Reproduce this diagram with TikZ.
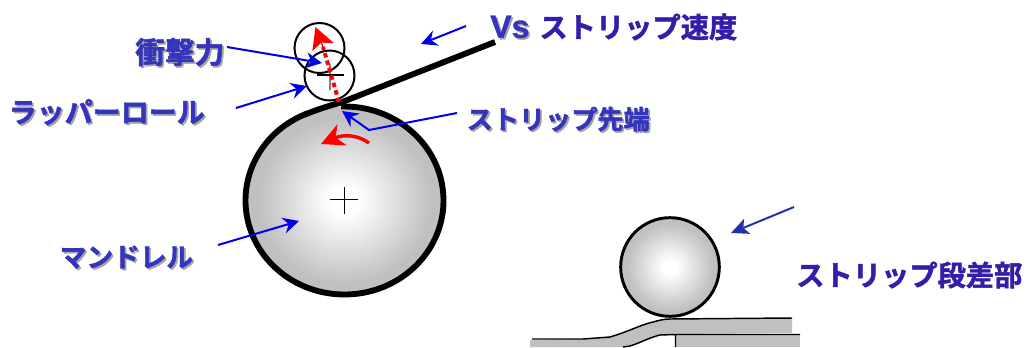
\documentclass[tikz,border=0pt]{standalone}
\usepackage{fontspec}
\setmainfont{Noto Sans CJK JP}[BoldFont={Noto Sans CJK JP Bold},BoldFeatures={FakeBold=1.6}]
\newfontfamily\latinbold{Liberation Sans}[BoldFont={Liberation Sans Bold},BoldFeatures={FakeBold=1.2}]
\usetikzlibrary{arrows.meta,shapes.geometric}
\definecolor{labelblue}{RGB}{52,52,190}
\definecolor{labelpurple}{RGB}{50,30,170}
\definecolor{shadowgray}{RGB}{165,165,165}
\definecolor{arrowblue}{RGB}{0,0,235}
\definecolor{darkblue}{RGB}{35,50,170}
\definecolor{slabgray}{RGB}{192,192,192}
\definecolor{hitred}{RGB}{255,0,0}
\newcommand{\shtext}[1]{\rlap{\hspace{1.3pt}\raisebox{-1.3pt}{\textcolor{shadowgray}{#1}}}\textcolor{labelblue}{#1}}
\pgfdeclareradialshading{ballshade}{\pgfpoint{0bp}{0bp}}{color(0bp)=(white);color(3.5bp)=(white);color(22bp)=(slabgray);color(50bp)=(slabgray)}
\tikzset{
  lbl/.style={inner sep=0pt,anchor=west,font=\bfseries\fontsize{#1pt}{#1pt}\selectfont},
  bluearrow/.style={arrowblue,line width=1.5pt,-{Stealth[length=12pt,width=12pt,inset=4pt]}},
  darkarrow/.style={darkblue,line width=1.5pt,-{Stealth[length=13pt,width=12pt,inset=3pt]}},
  thinroll/.style={circle,draw=black,line width=1.5pt,inner sep=0pt,minimum size=37.5pt},
}
\begin{document}
\begin{tikzpicture}[x=0.75pt,y=-0.75pt]
\useasboundingbox (0,0) rectangle (1029,347);
% mandrel
\node[ellipse,inner sep=0pt,shading=ballshade,minimum width=148.5pt,minimum height=141pt] (mandrel) at (344.5,200.5) {};
\draw[line width=4.4pt] (341.05,106.56) arc[start angle=268,end angle=608,x radius=99,y radius=94];
% strip
\coordinate (stripend) at (495,42);
\coordinate (striptip) at (341,102.5);
\coordinate (stripjoin) at (305,114.5);
\draw[line width=4.4pt] (stripend) -- (striptip) .. controls (328,106) and (316,110) .. (stripjoin);
% crosses
\draw[line width=0.6pt] (330,199.5) -- (358,199.5) (344,187) -- (344,214);
\node[thinroll] (rolla) at (319.5,48) {};
\node[thinroll] (rollb) at (329.5,75.5) {};
\draw[gray,line width=0.9pt] (330,64) -- (330,90);
\draw[line width=0.9pt] (317,75) -- (344,75);
% impact trajectory
\coordinate (redbase) at (323,47);
\coordinate (redtip) at (315.5,27);
\draw[hitred,line width=3pt,dash pattern=on 3.4pt off 2.4pt] (339,102) -- (redbase);
\draw[hitred,-{Stealth[length=16pt,width=17pt,inset=3.5pt]},line width=1pt] (redbase) -- (redtip);
% rotation arrow
\coordinate (rotstart) at (369,143);
\coordinate (rotend) at (321,144);
\draw[hitred,line width=2.6pt,-{Stealth[length=17pt,width=17pt,inset=5pt]}] (rotstart) .. controls (358,135) and (344,134) .. (rotend);
% labels
\node[lbl=21.2] (vs) at (490,27) {\shtext{\latinbold\fontsize{24pt}{24pt}\selectfont Vs}\hspace{7.5pt}\textcolor{labelpurple}{ストリップ速度}};
\node[lbl=22.3] (impact) at (135,53) {\shtext{衝撃力}};
\node[lbl=21] (wrapper) at (8.5,113) {\shtext{ラッパーロール}};
\node[lbl=19.6] (tip) at (466.5,120) {\shtext{ストリップ先端}};
\node[lbl=20] (mandlbl) at (59.5,258) {\shtext{マンドレル}};
\node[lbl=21.2,text=labelpurple] (step) at (796,275) {ストリップ段差部};
% blue arrows
\coordinate (a1s) at (466,26); \coordinate (a1e) at (421,44);
\coordinate (a2s) at (227,47); \coordinate (a2e) at (322,63);
\coordinate (a3s) at (236,108); \coordinate (a3e) at (307,86);
\coordinate (a4s) at (457,113); \coordinate (a4b) at (369,130); \coordinate (a4e) at (342,111);
\coordinate (a5s) at (218,245); \coordinate (a5e) at (299,221);
\draw[bluearrow] (a1s) -- (a1e);
\draw[bluearrow] (a2s) -- (a2e);
\draw[bluearrow] (a3s) -- (a3e);
\draw[bluearrow] (a4s) -- (a4b) -- (a4e);
\draw[bluearrow] (a5s) -- (a5e);
\coordinate (a6s) at (794,207); \coordinate (a6e) at (731,233);
\draw[darkarrow] (a6s) -- (a6e);
% step detail
\fill[slabgray] (675,335) rectangle (800,347);
\fill[slabgray] (530,340) -- (583,339) -- (610,337) .. controls (630,331) and (640,325) .. (653,322) .. controls (660,320) and (665,319) .. (670,319) -- (792,318) -- (792,333) -- (675,334) -- (660,335) .. controls (648,338) and (640,343) .. (630,346) -- (625,347) -- (530,347) -- cycle;
\draw[line width=1.1pt] (532,339) -- (583,339) -- (610,337) .. controls (630,331) and (640,325) .. (653,322) .. controls (660,320) and (665,319) .. (670,319) -- (792,318);
\draw[line width=1.1pt] (660,335) .. controls (648,338) and (640,343) .. (630,346) -- (623,347);
\draw[line width=1.1pt] (660,335) -- (675,334.5) -- (800,334.5) (675.5,334.5) -- (675.5,347);
\node[circle,draw=black,inner sep=0pt,shading=ballshade,line width=2.2pt,minimum size=74pt] (smallball) at (670,267) {};
\end{tikzpicture}
\end{document}
